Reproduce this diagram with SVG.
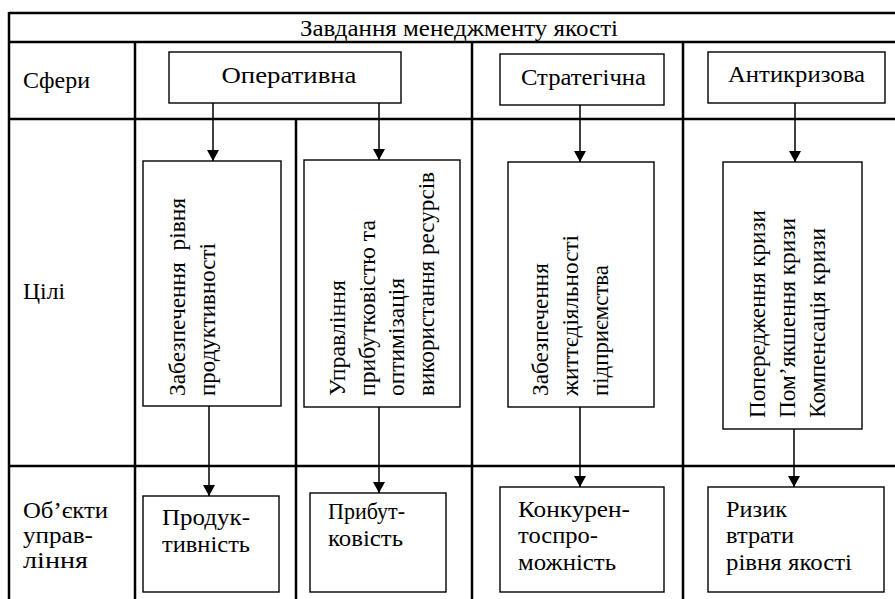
<svg xmlns="http://www.w3.org/2000/svg" width="895" height="599" viewBox="0 0 895 599">
<defs>
<marker id="ah" markerWidth="11" markerHeight="12" refX="11" refY="6" orient="auto" markerUnits="userSpaceOnUse" viewBox="0 0 11 12">
<path d="M0,0 L11,6 L0,12 Z" fill="#000"/>
</marker>
<style>
.t text{font-family:'Liberation Serif','Tinos','DejaVu Serif',serif;font-size:23px;fill:#000}
.grid line{stroke:#000;stroke-width:2.5}
.box{fill:#fff;stroke:#000;stroke-width:1.4}
.conn line{stroke:#000;stroke-width:1.5}
</style>
</defs>
<rect width="895" height="599" fill="#fff"/>
<g id="table" class="grid">
<line x1="9" y1="13" x2="895" y2="13"/>
<line x1="9" y1="42" x2="895" y2="42"/>
<line x1="9" y1="119" x2="895" y2="119"/>
<line x1="9" y1="466" x2="895" y2="466"/>
<line x1="9" y1="12" x2="9" y2="599"/>
<line x1="135" y1="42" x2="135" y2="599"/>
<line x1="472" y1="42" x2="472" y2="599"/>
<line x1="683" y1="42" x2="683" y2="599"/>
<line x1="296" y1="119" x2="296" y2="599"/>
</g>
<g id="labels" class="t">
<text x="300" y="36" textLength="318" lengthAdjust="spacingAndGlyphs">Завдання менеджменту якості</text>
<text x="23" y="88" textLength="67" lengthAdjust="spacingAndGlyphs">Сфери</text>
<text x="23" y="299" textLength="42" lengthAdjust="spacingAndGlyphs">Цілі</text>
<text x="23" y="518" textLength="85" lengthAdjust="spacingAndGlyphs">Об’єкти</text>
<text x="23" y="543" textLength="70" lengthAdjust="spacingAndGlyphs">управ-</text>
<text x="23" y="568" textLength="65" lengthAdjust="spacingAndGlyphs">ління</text>
</g>
<g id="conn" class="conn">
<line x1="213" y1="103" x2="213" y2="161" marker-end="url(#ah)"/>
<line x1="379" y1="103" x2="379" y2="160" marker-end="url(#ah)"/>
<line x1="580" y1="105" x2="580" y2="162" marker-end="url(#ah)"/>
<line x1="795" y1="103" x2="795" y2="162" marker-end="url(#ah)"/>
<line x1="209" y1="406" x2="209" y2="496" marker-end="url(#ah)"/>
<line x1="379" y1="407" x2="379" y2="493" marker-end="url(#ah)"/>
<line x1="580" y1="407" x2="580" y2="487" marker-end="url(#ah)"/>
<line x1="794" y1="429" x2="794" y2="487" marker-end="url(#ah)"/>
</g>
<g class="t">
<g id="n-operative"><rect class="box" x="169" y="52" width="232" height="51"/><text x="221.5" y="83" textLength="135" lengthAdjust="spacingAndGlyphs">Оперативна</text></g>
<g id="n-strategic"><rect class="box" x="500" y="54" width="164" height="51"/><text x="521" y="85" textLength="125" lengthAdjust="spacingAndGlyphs">Стратегічна</text></g>
<g id="n-anticrisis"><rect class="box" x="708" y="52" width="177" height="51"/><text x="728" y="82" textLength="137" lengthAdjust="spacingAndGlyphs">Антикризова</text></g>
<g id="n-goal1"><rect class="box" x="143" y="161" width="138" height="245"/>
<text transform="translate(185,396) rotate(-90)" textLength="198" lengthAdjust="spacingAndGlyphs" xml:space="preserve">Забезпечення  рівня</text>
<text transform="translate(215,396) rotate(-90)" textLength="153" lengthAdjust="spacingAndGlyphs">продуктивності</text></g>
<g id="n-goal2"><rect class="box" x="304" y="160" width="156" height="247"/>
<text transform="translate(345,396) rotate(-90)" textLength="116" lengthAdjust="spacingAndGlyphs">Управління</text>
<text transform="translate(374.5,396) rotate(-90)" textLength="176" lengthAdjust="spacingAndGlyphs">прибутковістю та</text>
<text transform="translate(404,396) rotate(-90)" textLength="118" lengthAdjust="spacingAndGlyphs">оптимізація</text>
<text transform="translate(433.5,396) rotate(-90)" textLength="224" lengthAdjust="spacingAndGlyphs">використання ресурсів</text></g>
<g id="n-goal3"><rect class="box" x="508" y="162" width="146" height="245"/>
<text transform="translate(548,396) rotate(-90)" textLength="133" lengthAdjust="spacingAndGlyphs">Забезпечення</text>
<text transform="translate(578,396) rotate(-90)" textLength="161" lengthAdjust="spacingAndGlyphs">життєдіяльності</text>
<text transform="translate(608,396) rotate(-90)" textLength="131" lengthAdjust="spacingAndGlyphs">підприємства</text></g>
<g id="n-goal4"><rect class="box" x="723" y="162" width="139" height="267"/>
<text transform="translate(765,418) rotate(-90)" textLength="208" lengthAdjust="spacingAndGlyphs">Попередження кризи</text>
<text transform="translate(795,418) rotate(-90)" textLength="200" lengthAdjust="spacingAndGlyphs">Пом’якшення кризи</text>
<text transform="translate(825,418) rotate(-90)" textLength="190" lengthAdjust="spacingAndGlyphs">Компенсація кризи</text></g>
<g id="n-obj1"><rect class="box" x="143" y="496" width="136" height="96"/>
<text x="162" y="525" textLength="88" lengthAdjust="spacingAndGlyphs">Продук-</text>
<text x="162" y="551.5" textLength="88" lengthAdjust="spacingAndGlyphs">тивність</text></g>
<g id="n-obj2"><rect class="box" x="310" y="493" width="136" height="99"/>
<text x="328" y="519" textLength="77" lengthAdjust="spacingAndGlyphs">Прибут-</text>
<text x="328" y="545.5" textLength="75" lengthAdjust="spacingAndGlyphs">ковість</text></g>
<g id="n-obj3"><rect class="box" x="500" y="487" width="164" height="105"/>
<text x="518" y="516.5" textLength="112" lengthAdjust="spacingAndGlyphs">Конкурен-</text>
<text x="518" y="543.2" textLength="80" lengthAdjust="spacingAndGlyphs">тоспро-</text>
<text x="518" y="570" textLength="98" lengthAdjust="spacingAndGlyphs">можність</text></g>
<g id="n-obj4"><rect class="box" x="708" y="487" width="176" height="105"/>
<text x="726" y="516.5" textLength="61" lengthAdjust="spacingAndGlyphs">Ризик</text>
<text x="726" y="543.2" textLength="68" lengthAdjust="spacingAndGlyphs">втрати</text>
<text x="726" y="570" textLength="126" lengthAdjust="spacingAndGlyphs">рівня якості</text></g>
</g>
</svg>
